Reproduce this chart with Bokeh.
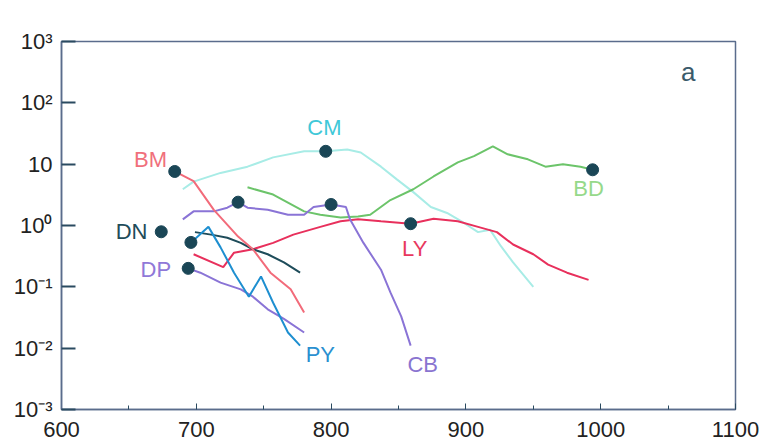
from bokeh.plotting import figure
from bokeh.models import Range1d, FixedTicker, CustomJSTickFormatter, ColumnDataSource
from bokeh.core.properties import value
from bokeh.embed import file_html
from bokeh.resources import INLINE

# ---- data (x = wavelength-like axis, y = log scale values) ----
bm_x = [684, 698, 713, 731, 742, 755, 770, 780]
bm_y = [7.6, 5.3, 1.8, 0.66, 0.41, 0.17, 0.091, 0.038]

cm_x = [690, 698, 718, 738, 757, 780, 796, 812, 822, 837, 849, 861, 874, 886, 898, 909, 918, 926, 935, 950]
cm_y = [3.9, 5.2, 7.2, 9.1, 12.9, 16.2, 16.2, 17.4, 15.5, 9.1, 5.6, 3.5, 2.0, 1.6, 1.12, 0.78, 0.85, 0.46, 0.25, 0.10]

bd_x = [738, 757, 780, 792, 807, 820, 829, 844, 861, 876, 894, 906, 920, 931, 946, 959, 972, 985, 994]
bd_y = [4.2, 3.2, 1.7, 1.5, 1.35, 1.4, 1.5, 2.6, 3.9, 6.3, 10.7, 13.5, 19.5, 14.5, 12.0, 9.1, 10.0, 9.1, 8.1]

ly_x = [698, 720, 728, 742, 757, 772, 792, 807, 820, 837, 859, 876, 894, 909, 923, 935, 950, 961, 975, 991]
ly_y = [0.34, 0.21, 0.36, 0.41, 0.52, 0.71, 0.95, 1.17, 1.26, 1.17, 1.07, 1.29, 1.17, 0.95, 0.78, 0.49, 0.34, 0.23, 0.17, 0.13]

cb_x = [690, 698, 713, 723, 731, 738, 753, 768, 780, 787, 800, 811, 814, 824, 837, 844, 852, 859]
cb_y = [1.26, 1.7, 1.7, 1.95, 2.4, 1.95, 1.8, 1.5, 1.5, 2.0, 2.2, 2.0, 1.26, 0.52, 0.19, 0.081, 0.033, 0.011]

dn_x = [699, 711, 723, 733, 742, 753, 765, 777]
dn_y = [0.78, 0.71, 0.63, 0.52, 0.41, 0.34, 0.25, 0.17]

py_x = [697, 709, 718, 728, 739, 748, 757, 768, 777]
py_y = [0.55, 0.95, 0.44, 0.17, 0.069, 0.148, 0.055, 0.018, 0.011]

dp_x = [694, 703, 718, 733, 742, 753, 765, 780]
dp_y = [0.20, 0.17, 0.117, 0.091, 0.069, 0.043, 0.030, 0.018]

dot_x = [684, 731, 796, 800, 994, 674, 696, 694, 859]
dot_y = [7.6, 2.4, 16.2, 2.2, 8.1, 0.79, 0.53, 0.20, 1.07]

lab_text = ["BM", "CM", "BD", "DN", "LY", "DP", "PY", "CB"]
lab_x = [666, 795, 991, 652, 862, 670, 792, 868]
lab_y = [12, 40, 4.0, 0.8, 0.42, 0.19, 0.0079, 0.0054]
lab_color = ["#f0707c", "#40c8d8", "#96d98a", "#1e4c5a", "#e8385e", "#9078d8", "#2a90d0", "#8a74d0"]

x_ticks = [600, 700, 800, 900, 1000, 1100]
x_minor = [650, 750, 850, 950, 1050]
y_ticks = [0.001, 0.01, 0.1, 1, 10, 100, 1000]

panel_label = "a"
panel_x = [1065]
panel_y = [324]

# ---- figure ----
p = figure(width=767, height=447, output_backend="svg", toolbar_location=None,
           x_range=Range1d(600, 1100), y_range=Range1d(0.001, 1000),
           y_axis_type="log", min_border_left=61, min_border_right=32,
           min_border_top=41, min_border_bottom=38)
p.frame_width = 674
p.frame_height = 368
p.background_fill_color = "white"
p.border_fill_color = "white"
p.outline_line_color = "#5a6c8c"
p.outline_line_width = 1.5
p.xgrid.visible = False
p.ygrid.visible = False

axcol = "#5a6c8c"
tickcol = "#2a4a60"

xa = p.xaxis[0]
xa.ticker = FixedTicker(ticks=x_ticks, minor_ticks=x_minor)
xa.axis_line_color = axcol
xa.axis_line_width = 1.5
xa.major_tick_in = 6
xa.major_tick_out = 0
xa.minor_tick_in = 4
xa.minor_tick_out = 0
xa.major_tick_line_color = tickcol
xa.minor_tick_line_color = tickcol
xa.major_label_text_font = "Liberation Sans"
xa.major_label_text_font_size = "22px"
xa.major_label_text_color = "#222222"
xa.major_label_standoff = 12

ya = p.yaxis[0]
ya.ticker = FixedTicker(ticks=y_ticks, minor_ticks=[])
ya.formatter = CustomJSTickFormatter(code="""
const e = Math.round(Math.log10(tick));
const m = {3: "10\u00b3", 2: "10\u00b2", 1: "10", 0: "10\u2070",
           "-1": "10\u207b\u00b9", "-2": "10\u207b\u00b2", "-3": "10\u207b\u00b3"};
return m[e];
""")
ya.axis_line_color = axcol
ya.axis_line_width = 1.5
ya.major_tick_in = 14
ya.major_tick_out = 0
ya.minor_tick_in = 0
ya.minor_tick_out = 0
ya.major_tick_line_color = tickcol
ya.major_tick_line_width = 2
ya.major_label_text_font = "Liberation Sans"
ya.major_label_text_font_size = "22px"
ya.major_label_text_color = "#222222"
ya.major_label_standoff = 9

lw = 2
p.line(cm_x, cm_y, line_color="#a8ece6", line_width=lw)
p.line(bd_x, bd_y, line_color="#6cc46a", line_width=lw)
p.line(ly_x, ly_y, line_color="#e8305c", line_width=lw)
p.line(cb_x, cb_y, line_color="#8a74d6", line_width=lw)
p.line(dp_x, dp_y, line_color="#8a74d6", line_width=lw)
p.line(dn_x, dn_y, line_color="#1e4c5a", line_width=lw)
p.line(bm_x, bm_y, line_color="#f26b7a", line_width=lw)
p.line(py_x, py_y, line_color="#1e8fd0", line_width=lw)

p.scatter(dot_x, dot_y, size=12, fill_color="#1a4656", line_color="#1a4656")

src = ColumnDataSource(dict(x=lab_x, y=lab_y, t=lab_text, c=lab_color))
p.text(x="x", y="y", text="t", text_color="c", source=src,
       text_font=value("Liberation Sans"), text_font_size="22px",
       text_align="center", text_baseline="middle")

p.text(x=panel_x, y=panel_y, text=[panel_label], text_color="#3a5a6a",
       text_font=value("Liberation Sans"), text_font_size="26px",
       text_align="center", text_baseline="middle")

open("out.html", "w").write(file_html(p, INLINE))
